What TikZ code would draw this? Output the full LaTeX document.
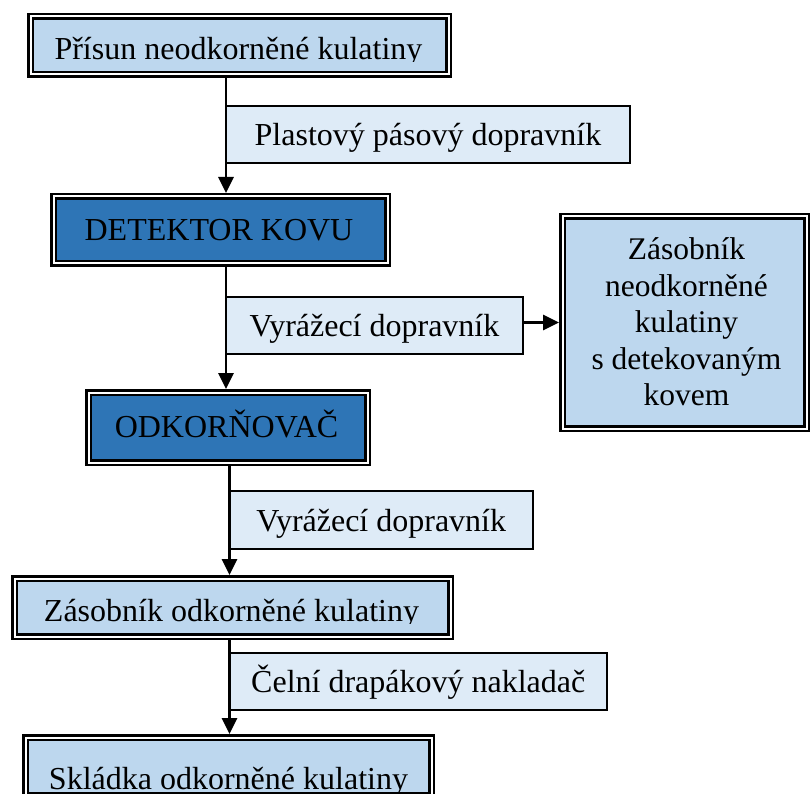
\documentclass[tikz,border=0pt]{standalone}
\usepackage{fontspec}
\setmainfont{Liberation Serif}
\usetikzlibrary{arrows.meta}
\definecolor{boxlight}{HTML}{BDD7EE}
\definecolor{boxdark}{HTML}{2E75B6}
\definecolor{labfill}{HTML}{DEEBF7}
\begin{document}
\begin{tikzpicture}[x=1pt,y=-1pt,
  dbox/.style={draw=black, line width=2.5pt, double=white, double distance=2pt,
    inner sep=0pt, outer sep=3.5pt, rectangle},
  lightbox/.style={dbox, fill=boxlight},
  darkbox/.style={dbox, fill=boxdark},
  lab/.style={draw=black, line width=1.5pt, fill=labfill, inner sep=0pt, outer sep=0pt,
    text height=22pt, text depth=0pt, font=\fontsize{32}{36}\selectfont},
  btxt/.style={inner sep=0pt, anchor=base, font=\fontsize{32}{36}\selectfont},
  arr/.style={line width=2.8pt, -{Triangle[length=16pt,width=15pt]}}]
\useasboundingbox (0,0) rectangle (811,794);
\clip (0,0) rectangle (811,794);

% main boxes
\node[lightbox, minimum width=418pt, minimum height=58pt] (b1) at (239.5,45.5) {};
\node[darkbox,  minimum width=334pt, minimum height=67pt] (b2) at (220.5,230) {};
\node[darkbox,  minimum width=279pt, minimum height=70pt] (b3) at (228,427.5) {};
\node[lightbox, minimum width=436pt, minimum height=58pt] (b4) at (232.5,607.5) {};
\node[lightbox, minimum width=406pt, minimum height=58pt] (b5) at (228.5,766.5) {};
\node[lightbox, minimum width=244pt, minimum height=212pt] (rb) at (684.5,322.5) {};

% box texts
\begin{scope}
  \clip (27,13) rectangle (452,62);
  \node[btxt] (t1) at (238.5,60) {Přísun neodkorněné kulatiny};
\end{scope}
\node[btxt] (t2) at (219,241) {DETEKTOR KOVU};
\node[btxt] (t3) at (226.5,437) {ODKORŇOVAČ};
\begin{scope}
  \clip (11,575) rectangle (454,623.5);
  \node[btxt] (t4) at (231.5,621.7) {Zásobník odkorněné kulatiny};
\end{scope}
\begin{scope}
  \clip (22,734) rectangle (435,791);
  \node[btxt] (t5) at (228.5,789) {Skládka odkorněné kulatiny};
\end{scope}
\node[inner sep=0pt, align=center, font=\fontsize{31.5}{36.5}\selectfont] (rt) at (686.5,322)
  {Zásobník\\neodkorněné\\kulatiny\\s detekovaným\\kovem};

% transport labels
\node[lab, minimum width=404pt, minimum height=57pt] (l1) at (428,134.5) {Plastový pásový dopravník};
\node[lab, minimum width=297pt, minimum height=57pt] (l2) at (374.5,325.5) {Vyrážecí dopravník};
\node[lab, minimum width=303.5pt, minimum height=58pt] (l3) at (381.25,520) {Vyrážecí dopravník};
\node[lab, minimum width=377.5pt, minimum height=57pt] (l4) at (418.25,681.5) {Čelní drapákový nakladač};

% connectors
\draw[arr] (b1.south -| l1.west) -- (b2.north -| l1.west);
\draw[arr] (b2.south -| l2.west) -- (b3.north -| l2.west);
\draw[arr] (b3.south -| l3.west) -- (b4.north -| l3.west);
\draw[arr] (b4.south -| l4.west) -- (b5.north -| l4.west);
\draw[arr] (l2.east |- rb.west) -- (rb.west);
\end{tikzpicture}
\end{document}
